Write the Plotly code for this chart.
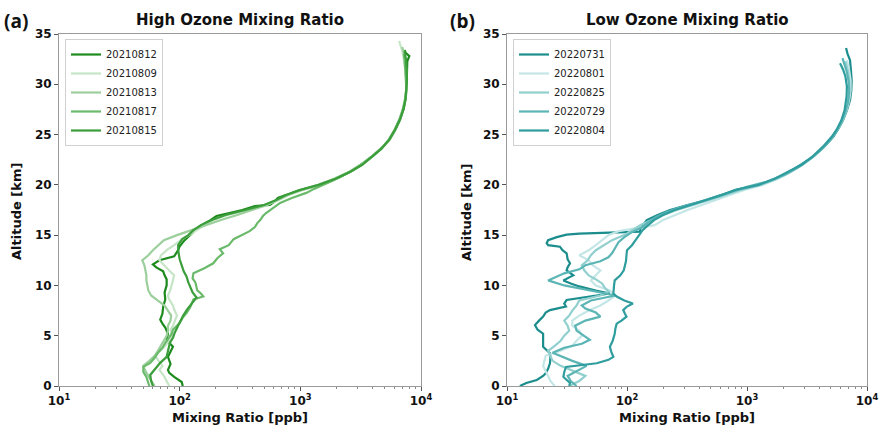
import plotly.graph_objects as go

# ---------------- Ozone profiles: altitude [km] and mixing ratio [ppb] ----------------
# High ozone days (2021)
alt_20210812 = [0.0, 0.4, 0.9, 1.3, 1.6, 2.2, 2.9, 3.4, 3.9, 4.3, 4.6, 5.2, 5.8, 6.2, 6.6, 7.2, 7.9, 8.6,
                9.3, 10.0, 10.6, 11.0, 11.4, 11.8, 12.1, 12.5, 12.9, 13.4, 13.9, 14.5, 15.05, 15.5, 15.9,
                16.4, 16.9, 17.2, 17.5, 17.9, 18.0, 18.4, 18.7, 19.0, 19.4, 19.8, 20.2, 20.8, 21.5, 22.2,
                22.9, 23.7, 24.5, 25.5, 26.5, 27.6, 28.8, 30.0, 31.5, 32.3, 32.8, 33.1, 33.4]
o3_20210812 = [106, 104, 90, 82, 80, 84, 80, 84, 88, 82, 78, 80, 76, 72, 69, 72, 73, 76,
               75, 78, 78, 75, 73, 64, 60, 68, 90, 96, 100, 110, 122, 135, 147,
               175, 202, 260, 330, 420, 560, 620, 650, 770, 950, 1270, 1650, 2150, 2750, 3350,
               4000, 4750, 5500, 6150, 6700, 7200, 7500, 7600, 7650, 7700, 8000, 7500, 7300]

alt_20210809 = [0.0, 0.5, 1.0, 1.6, 2.0, 2.6, 3.0, 3.6, 4.0, 4.5, 5.0, 5.6, 6.0, 6.6, 7.0, 7.6, 8.0, 8.6,
                9.0, 9.6, 10.0, 10.6, 11.0, 11.6, 12.0, 12.5, 13.0, 13.6, 14.0, 14.6, 15.0, 15.5, 16.0,
                16.5, 17.0, 17.5, 18.0, 18.5, 19.0, 19.5, 20.0, 20.6, 21.3, 22.0, 22.8, 23.6, 24.5, 25.5,
                26.5, 27.5, 28.5, 29.5, 30.5, 31.5, 32.5, 33.3, 34.0, 34.3]
o3_20210809 = [82, 78, 74, 68, 72, 66, 63, 70, 76, 82, 86, 84, 88, 92, 95, 90, 88, 82,
               80, 84, 86, 88, 90, 80, 74, 68, 70, 80, 90, 105, 120, 138, 160,
               190, 250, 380, 520, 660, 800, 1050, 1450, 1950, 2600, 3200, 3950, 4700, 5450, 6100,
               6650, 7100, 7400, 7550, 7500, 7400, 7200, 7000, 6700, 6600]

alt_20210813 = [0.0, 0.5, 1.0, 1.5, 2.0, 2.5, 3.0, 3.5, 4.0, 4.5, 5.0, 5.5, 6.0, 6.5, 7.0, 7.5, 8.0, 8.5,
                9.0, 9.5, 10.0, 10.5, 11.0, 11.5, 12.0, 12.5, 13.0, 13.5, 14.0, 14.5, 15.0, 15.5, 16.0,
                16.5, 17.0, 17.5, 18.0, 18.5, 19.0, 19.5, 20.0, 20.6, 21.3, 22.0, 22.8, 23.6, 24.5, 25.5,
                26.5, 27.5, 28.5, 29.5, 30.5, 31.5, 32.5, 33.2, 33.7]
o3_20210813 = [62, 58, 55, 52, 50, 56, 62, 66, 70, 74, 78, 80, 80, 84, 85, 80, 75, 66,
               58, 55, 54, 53, 53, 52, 51, 49, 55, 60, 66, 74, 95, 125, 165,
               220, 300, 400, 530, 650, 790, 1020, 1400, 1900, 2550, 3150, 3900, 4650, 5400, 6050,
               6600, 7050, 7350, 7550, 7600, 7550, 7400, 7200, 7000]

alt_20210817 = [0.0, 0.5, 0.9, 1.4, 1.9, 2.3, 2.8, 3.3, 3.8, 4.3, 4.8, 5.2, 5.6, 6.25, 6.8, 7.25, 7.8, 8.3,
                8.6, 8.9, 9.2, 9.5, 9.9, 10.3, 10.7, 11.2, 11.7, 12.2, 12.7, 13.2, 13.6, 14.0, 14.6, 15.0,
                15.4, 15.8, 16.2, 16.5, 16.9, 17.2, 17.7, 18.2, 18.7, 19.2, 19.6, 20.0, 20.6, 21.3, 22.0,
                22.8, 23.6, 24.5, 25.5, 26.5, 27.5, 28.5, 29.5, 30.5, 31.5, 32.5, 33.0]
o3_20210817 = [56, 54, 53, 50, 50, 57, 62, 66, 72, 76, 82, 86, 88, 100, 106, 114, 122, 128,
               130, 157, 150, 140, 138, 135, 128, 130, 160, 190, 205, 229, 215, 255, 280, 330,
               380, 420, 440, 465, 490, 520, 600, 680, 850, 1120, 1300, 1550, 2000, 2600, 3250,
               3950, 4700, 5450, 6100, 6650, 7100, 7400, 7550, 7500, 7450, 7300, 7200]

alt_20210815 = [0.0, 0.5, 1.1, 1.6, 2.3, 2.9, 3.5, 4.3, 4.8, 5.3, 6.0, 6.6, 7.0, 7.6, 8.2, 8.8, 9.3, 9.8,
                10.3, 10.9, 11.4, 12.0, 12.6, 13.2, 14.0, 14.6, 15.0, 15.5, 16.0, 16.5, 17.0, 17.5, 18.0,
                18.5, 19.0, 19.5, 20.0, 20.6, 21.3, 22.0, 22.8, 23.6, 24.5, 25.5, 26.5, 27.5, 28.5, 29.5,
                30.5, 31.5, 32.5, 33.3]
o3_20210815 = [60, 58, 57, 62, 69, 78, 80, 83, 88, 91, 97, 102, 107, 115, 126, 138, 128, 122,
               118, 114, 108, 104, 100, 98, 97, 105, 118, 130, 150, 185, 240, 350, 500,
               630, 760, 1000, 1420, 1950, 2600, 3250, 3950, 4700, 5450, 6100, 6700, 7150, 7450, 7600,
               7650, 7600, 7500, 7300]

# Low ozone days (2022)
alt_20220731 = [0.0, 0.3, 0.6, 1.0, 1.26, 1.7, 2.26, 2.8, 3.25, 3.6, 3.9, 4.5, 5.2, 5.6, 6.06, 6.5, 6.9,
                7.3, 7.55, 7.9, 8.2, 8.55, 8.9, 9.2, 9.5, 9.9, 10.2, 10.5, 10.8, 11.0, 11.5, 11.8, 12.2,
                12.6, 13.2, 13.5, 13.85, 14.0, 14.2, 14.5, 14.8, 15.05, 15.15, 15.25, 15.35, 15.7, 16.2,
                16.5, 17.0, 17.5, 18.0, 18.5, 19.0, 19.5, 20.1, 20.6, 21.1, 22.0, 22.8, 23.8, 24.8,
                25.6, 26.4, 27.4, 28.4, 29.4, 30.4, 31.4, 32.4, 33.0, 33.6]
o3_20220731 = [12.8, 14.5, 17.7, 20, 21, 22, 22.8, 23, 22.8, 21, 20, 20, 20, 18, 17.1, 18.5, 20,
               21, 22.8, 31, 30, 31.4, 50, 72, 55, 40, 34, 29.5, 33, 35.7, 31.4, 32, 33.5,
               32, 31.4, 29, 27.6, 22, 21.4, 22, 26, 31.4, 40, 80, 128, 130, 140,
               146, 180, 228, 320, 460, 620, 820, 1370, 1750, 2140, 2800, 3570, 4400, 5250,
               5800, 6300, 6800, 7220, 7400, 7450, 7350, 7220, 6900, 6690]

alt_20220801 = [0.0, 0.5, 1.0, 1.5, 2.0, 2.5, 3.0, 3.5, 4.0, 4.5, 5.0, 5.5, 6.0, 6.5, 7.0, 7.5, 8.0, 8.5,
                9.0, 9.5, 10.0, 10.5, 11.0, 11.5, 12.0, 12.5, 13.0, 13.5, 14.0, 14.5, 15.0, 15.4, 15.7,
                16.0, 16.5, 17.0, 17.5, 18.0, 18.5, 19.0, 19.5, 20.0, 20.6, 21.2, 22.0, 22.8, 23.8, 24.8,
                25.6, 26.4, 27.4, 28.4, 29.4, 30.4, 31.4, 32.4]
o3_20220801 = [25, 23, 22, 21, 20, 20.5, 21, 28, 35, 38, 42, 40, 35, 35, 40, 48, 60, 70,
               80, 72, 55, 50, 55, 60, 52, 48, 40, 48, 55, 62, 70, 85, 120,
               170, 200, 250, 320, 420, 560, 720, 950, 1350, 1800, 2250, 2900, 3550, 4350, 5150,
               5750, 6250, 6750, 7100, 7300, 7300, 7100, 6800]

alt_20220825 = [0.0, 0.5, 1.0, 1.5, 2.0, 2.5, 3.0, 3.5, 4.0, 4.5, 5.0, 5.5, 6.0, 6.5, 7.0, 7.5, 8.0, 8.5,
                9.0, 9.4, 9.8, 10.2, 10.6, 11.0, 11.5, 12.0, 12.5, 13.0, 13.5, 14.0, 14.5, 15.0, 15.5,
                16.0, 16.5, 17.0, 17.5, 18.0, 18.5, 19.0, 19.5, 20.0, 20.6, 21.2, 22.0, 22.8, 23.8, 24.8,
                25.6, 26.4, 27.4, 28.4, 29.4, 30.4, 31.4, 32.3]
o3_20220825 = [33, 40, 45, 35, 28, 24, 23, 22, 25, 28, 30, 33, 32, 30, 33, 35, 38, 40,
               60, 70, 65, 62, 55, 48, 44, 42, 47, 50, 55, 65, 75, 95, 110,
               130, 160, 200, 260, 360, 500, 660, 880, 1300, 1780, 2250, 2900, 3550, 4350, 5150,
               5700, 6150, 6650, 7000, 7150, 7100, 6900, 6600]

alt_20220729 = [0.0, 0.5, 1.0, 1.5, 2.0, 2.5, 3.0, 3.3, 3.8, 4.2, 4.6, 5.0, 5.5, 6.0, 6.5, 6.9, 7.3, 7.7,
                8.0, 8.5, 9.0, 9.3, 9.7, 10.0, 10.5, 10.8, 11.2, 11.6, 12.0, 12.4, 12.8, 13.2, 13.8,
                14.3, 14.8, 15.3, 15.8, 16.3, 16.8, 17.3, 17.8, 18.3, 18.8, 19.3, 19.8, 20.3, 21.0, 21.8,
                22.6, 23.5, 24.5, 25.3, 26.2, 27.2, 28.2, 29.2, 30.2, 31.2, 32.0, 32.6]
o3_20220729 = [38, 34, 32, 38, 46, 35, 28, 24, 30, 42, 49, 44, 38, 37, 45, 60, 55, 45,
               42, 50, 80, 60, 40, 30, 22, 25, 30, 40, 45, 60, 70, 75, 80,
               85, 95, 110, 135, 150, 175, 215, 280, 400, 540, 720, 1000, 1450, 2050, 2700,
               3400, 4150, 5000, 5550, 6100, 6600, 6950, 7100, 7050, 6800, 6500, 6250]

alt_20220804 = [0.0, 0.3, 0.9, 1.4, 1.9, 2.26, 2.6, 2.9, 3.4, 3.9, 4.5, 5.2, 5.7, 6.2, 6.5, 6.9, 7.2, 7.55,
                7.9, 8.2, 8.5, 8.9, 9.2, 9.6, 10.0, 10.5, 11.0, 11.5, 11.9, 12.4, 13.0, 13.5, 14.0, 14.5,
                15.0, 15.5, 16.0, 16.5, 17.0, 17.5, 18.0, 18.5, 19.0, 19.5, 20.0, 20.6, 21.2, 22.0, 22.8,
                23.8, 24.8, 25.6, 26.4, 27.4, 28.8, 29.8, 30.8, 31.5, 32.1]
o3_20220804 = [33, 33.5, 29.5, 30, 31, 56, 70, 77, 74, 72, 76, 79, 80, 82, 90, 99, 96, 93,
               100, 112, 95, 82, 77, 78, 78, 79, 88, 94, 96, 98, 99, 100, 110, 118,
               125, 135, 150, 168, 200, 250, 340, 470, 620, 800, 1250, 1700, 2150, 2850, 3500,
               4300, 5100, 5650, 6100, 6500, 6760, 6800, 6600, 6300, 5960]

high_days = ["20210812", "20210809", "20210813", "20210817", "20210815"]
low_days = ["20220731", "20220801", "20220825", "20220729", "20220804"]

high_profiles = {
    "20210812": (o3_20210812, alt_20210812),
    "20210809": (o3_20210809, alt_20210809),
    "20210813": (o3_20210813, alt_20210813),
    "20210817": (o3_20210817, alt_20210817),
    "20210815": (o3_20210815, alt_20210815),
}
low_profiles = {
    "20220731": (o3_20220731, alt_20220731),
    "20220801": (o3_20220801, alt_20220801),
    "20220825": (o3_20220825, alt_20220825),
    "20220729": (o3_20220729, alt_20220729),
    "20220804": (o3_20220804, alt_20220804),
}

green_shades = ["#1c8a1c", "#c6e5c6", "#9ccf9c", "#6bba6b", "#3b9e3b"]
teal_shades = ["#1b8d8d", "#c4e6e6", "#92cfcf", "#5cb5b5", "#2f9d9d"]

y_ticks = [0, 5, 10, 15, 20, 25, 30, 35]
x_ticks = [10, 100, 1000, 10000]
x_ticktext = ["10<sup>1</sup>", "10<sup>2</sup>", "10<sup>3</sup>", "10<sup>4</sup>"]
x_minor = [m * 10 ** e for e in (1, 2, 3) for m in range(2, 10)]

fig = go.Figure()

for day, col in zip(high_days, green_shades):
    x, y = high_profiles[day]
    fig.add_trace(go.Scatter(x=x, y=y, mode="lines", name=day,
                             line=dict(color=col, width=2.2),
                             xaxis="x", yaxis="y", legend="legend"))

for day, col in zip(low_days, teal_shades):
    x, y = low_profiles[day]
    fig.add_trace(go.Scatter(x=x, y=y, mode="lines", name=day,
                             line=dict(color=col, width=2.2),
                             xaxis="x2", yaxis="y2", legend="legend2"))

W, H = 880, 432
ML, MR, MT, MB = 0, 0, 34, 46
dom_a = [59 / W, 421 / W]
dom_b = [507 / W, 867 / W]
plot_h = H - MT - MB


def py(px):
    """Paper y coordinate of a pixel row measured from the top of the page."""
    return (H - MB - px) / plot_h


tick_font = dict(family="DejaVu Sans", size=12, color="#111111", weight="bold")
frame = "#9a9a9a"


def x_axis(domain, anchor):
    return dict(type="log", range=[1, 4], domain=domain, anchor=anchor, automargin=False,
                tickvals=x_ticks, ticktext=x_ticktext, tickfont=tick_font,
                ticks="outside", ticklen=4, tickcolor="#555555",
                minor=dict(tickvals=x_minor, ticks="outside", ticklen=2, tickcolor="#888888"),
                showline=True, linecolor=frame, linewidth=1, mirror=True,
                showgrid=False, zeroline=False)


def y_axis(anchor):
    return dict(range=[0, 35], domain=[0, 1], anchor=anchor, automargin=False,
                tickvals=y_ticks, tickfont=tick_font,
                ticks="outside", ticklen=4, tickcolor="#555555",
                showline=True, linecolor=frame, linewidth=1, mirror=True,
                showgrid=False, zeroline=False)


legend_style = dict(font=dict(family="DejaVu Sans", size=10, color="#222222"),
                    bgcolor="rgba(255,255,255,0.9)", bordercolor="#d0d0d0", borderwidth=1,
                    itemwidth=30, xanchor="left", yanchor="top", tracegroupgap=0)

fig.update_layout(
    width=W, height=H,
    margin=dict(l=ML, r=MR, t=MT, b=MB, autoexpand=False),
    paper_bgcolor="white", plot_bgcolor="white",
    showlegend=True,
    xaxis=x_axis(dom_a, "y"),
    yaxis=y_axis("x"),
    xaxis2=x_axis(dom_b, "y2"),
    yaxis2=y_axis("x2"),
    legend=dict(x=65 / W, y=py(39), **legend_style),
    legend2=dict(x=513 / W, y=py(39), **legend_style),
)

title_font = dict(family="DejaVu Sans", size=15, color="#111111", weight="bold")
label_font = dict(family="DejaVu Sans", size=13, color="#111111", weight="bold")
panel_font = dict(family="Open Sans", size=19, color="#111111", weight="bold")


def note(text, xpx, ypx, font, xanchor="center", angle=0):
    return dict(text=text, x=xpx / W, y=py(ypx), xref="paper", yref="paper",
                showarrow=False, font=font, xanchor=xanchor, yanchor="middle",
                textangle=angle)


annotations = [
    note("High Ozone Mixing Ratio", 240, 20, title_font),
    note("Low Ozone Mixing Ratio", 687, 20, title_font),
    note("(a)", 2, 21, panel_font, xanchor="left"),
    note("(b)", 448, 21, panel_font, xanchor="left"),
    note("Mixing Ratio [ppb]", 240, 417, label_font),
    note("Mixing Ratio [ppb]", 687, 417, label_font),
    note("Altitude [km]", 17, 212, label_font, angle=-90),
    note("Altitude [km]", 467, 212, label_font, angle=-90),
]
fig.update_layout(annotations=annotations)

fig.write_html("out.html")
